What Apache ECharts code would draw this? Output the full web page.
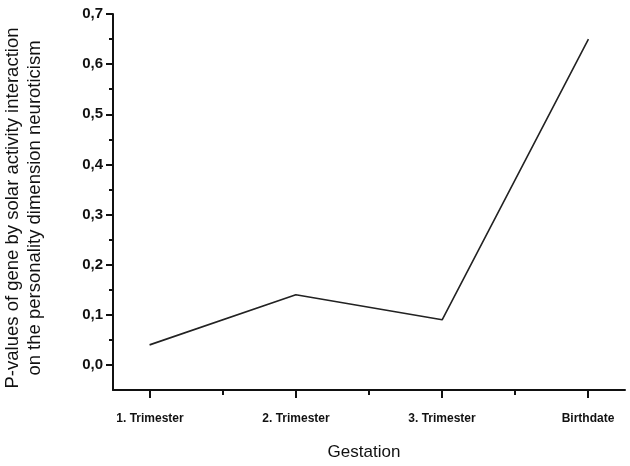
<!DOCTYPE html>
<html>
<head>
<meta charset="utf-8">
<script src="https://cdn.jsdelivr.net/npm/echarts@6/dist/echarts.min.js"></script>
<style>html,body{margin:0;padding:0;background:#fff}#c{width:630px;height:466px}</style>
</head>
<body>
<div id="c"></div>
<script>
const categories = ['1. Trimester', '2. Trimester', '3. Trimester', 'Birthdate'];
const pValues = [0.04, 0.14, 0.09, 0.65];
const yTitleLines = ['P-values of gene by solar activity interaction', 'on the personality dimension neuroticism'];
const xTitle = 'Gestation';

const FONT = '"Liberation Sans", Arial, sans-serif';
const INK = '#111';
const chart = echarts.init(document.getElementById('c'), null, {renderer: 'canvas'});
const seriesData = categories.map((c, i) => [i + 1, pValues[i]]);

chart.setOption({
  animation: false,
  backgroundColor: '#fff',
  grid: [
    {left: 113, right: 5, top: 14, bottom: 76},   // plot area (axis lines)
    {left: 150, right: 42, top: 14, bottom: 76},  // x ticks/labels
    {left: 113, right: 5, top: 14, bottom: 101}   // y ticks/labels
  ],
  xAxis: [
    {gridIndex: 0, type: 'value', min: 0.75, max: 4.25, splitLine: {show: false},
     axisLine: {show: true, onZero: false, lineStyle: {color: INK, width: 2}}, axisTick: {show: false}, axisLabel: {show: false}},
    {gridIndex: 1, type: 'value', min: 1, max: 4, interval: 1, splitLine: {show: false},
     axisLine: {show: false, onZero: false},
     axisTick: {show: true, length: 8, lineStyle: {color: INK, width: 2}},
     minorTick: {show: true, splitNumber: 2, length: 5, lineStyle: {color: INK, width: 2}},
     axisLabel: {show: true, margin: 23, fontSize: 12, fontWeight: 'bold', fontFamily: FONT, color: INK,
       formatter: v => categories[Math.round(v) - 1] || ''}},
    {gridIndex: 2, type: 'value', min: 0, max: 1, show: false}
  ],
  yAxis: [
    {gridIndex: 0, type: 'value', min: -0.05, max: 0.7, splitLine: {show: false},
     axisLine: {show: true, onZero: false, lineStyle: {color: INK, width: 2}}, axisTick: {show: false}, axisLabel: {show: false}},
    {gridIndex: 1, type: 'value', min: 0, max: 1, show: false},
    {gridIndex: 2, type: 'value', min: 0, max: 0.7, interval: 0.1, splitLine: {show: false},
     axisLine: {show: false, onZero: false},
     axisTick: {show: true, length: 7, lineStyle: {color: INK, width: 2}},
     minorTick: {show: true, splitNumber: 2, length: 4, lineStyle: {color: INK, width: 2}},
     axisLabel: {show: true, margin: 10, fontSize: 15, fontWeight: 'bold', fontFamily: FONT, color: INK,
       formatter: v => v.toFixed(1).replace('.', ',')}}
  ],
  series: [{
    type: 'line', xAxisIndex: 0, yAxisIndex: 0, data: seriesData,
    showSymbol: false, symbol: 'none',
    lineStyle: {color: '#222', width: 1.6}
  }],
  graphic: [
    {type: 'text', x: 24, y: 208, rotation: Math.PI / 2,
     style: {text: yTitleLines.join('\n'), font: '18.5px ' + FONT, fill: INK,
       align: 'center', verticalAlign: 'middle', lineHeight: 22}},
    {type: 'text', x: 364, y: 452,
     style: {text: xTitle, font: '17px ' + FONT, fill: INK, align: 'center', verticalAlign: 'middle'}}
  ]
});
</script>
</body>
</html>
